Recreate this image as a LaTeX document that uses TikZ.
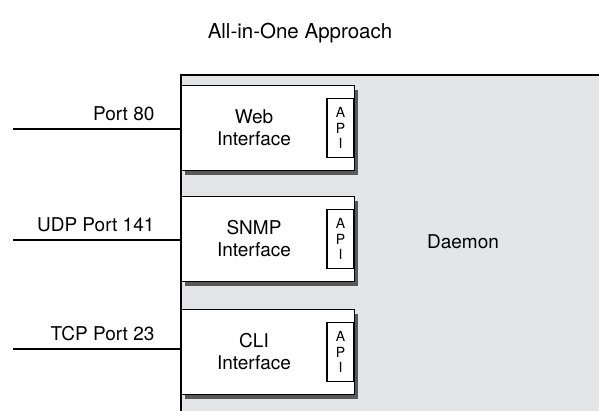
\documentclass[tikz,border=0pt]{standalone}
\usepackage{fontspec}
\setmainfont{TeX Gyre Heros}
\usetikzlibrary{shadows}
\definecolor{daemongray}{RGB}{228,229,230}
\begin{document}
\begin{tikzpicture}[x=1pt, y=-1pt, line width=1.2pt,
  every node/.style={font=\fontsize{19}{22}\selectfont, inner sep=0pt},
  ifbox/.style={draw, fill=white, anchor=north west, minimum width=173pt, minimum height=85pt,
    drop shadow={shadow xshift=3pt, shadow yshift=-4pt, fill=black!65, opacity=1}},
  apibox/.style={draw, anchor=east, minimum width=27pt, minimum height=59pt, align=center,
    font=\fontsize{14}{15.5}\selectfont},
  iftext/.style={align=center},
  portlabel/.style={anchor=south east}]
\useasboundingbox (0,0) rectangle (599,410);
\node[font=\fontsize{20.5}{24}\selectfont] (title) at (300,33){All-in-One Approach};
\node[fill=daemongray, anchor=north west, minimum width=418pt, minimum height=335pt] (daemon) at (181,75){};
\draw[](daemon.south west) -- (daemon.north west) -- (daemon.north east);
\node[] (dlabel) at (463,242){Daemon};

\node[ifbox] (web) at (181,85){};
\node[apibox] (webapi) at ([xshift=-0.6pt]web.east){A\\P\\I};
\node[iftext] (webtxt) at (254,128){Web\\Interface};
\node[ifbox] (snmp) at (181,196){};
\node[apibox] (snmpapi) at ([xshift=-0.6pt]snmp.east){A\\P\\I};
\node[iftext] (snmptxt) at (254,239){SNMP\\Interface};
\node[ifbox] (cli) at (181,309){};
\node[apibox] (cliapi) at ([xshift=-0.6pt]cli.east){A\\P\\I};
\node[iftext] (clitxt) at (254,352){CLI\\Interface};

\coordinate (p80) at (13,129);
\coordinate (p141) at (13,240);
\coordinate (p23) at (13,349);
\draw[](p80) -- (p80 -| web.west);
\draw[](p141) -- (p141 -| snmp.west);
\draw[](p23) -- (p23 -| cli.west);
\node[portlabel] (l80) at (155,121){Port 80};
\node[portlabel] (l141) at (155,232){UDP Port 141};
\node[portlabel] (l23) at (155,341){TCP Port 23};
\end{tikzpicture}
\end{document}
